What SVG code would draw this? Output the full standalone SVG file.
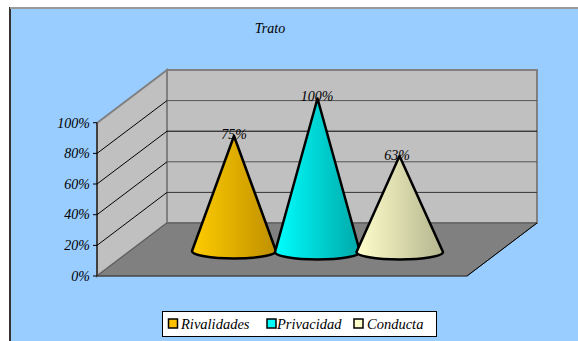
<svg xmlns="http://www.w3.org/2000/svg" width="578" height="341" viewBox="0 0 578 341">
<defs>
<style>
text{font-family:'Liberation Serif','Times New Roman',serif;font-style:italic;font-size:14px;fill:#000}
.ax{text-anchor:end}
.mid{text-anchor:middle}
.lg{font-size:14.5px}
.grid{stroke:#000;stroke-width:1;fill:none}
.wall{fill:#c0c0c0;stroke:#808080;stroke-width:2}
.cone{stroke:#000;stroke-width:2.5;stroke-linejoin:round}
.mk{stroke:#000;stroke-width:1.5}
</style>
<linearGradient id="gGold" x1="0" y1="0" x2="1" y2="0">
<stop offset="0" stop-color="#ffcc00"/><stop offset="1" stop-color="#bf9000"/>
</linearGradient>
<linearGradient id="gCyan" x1="0" y1="0" x2="1" y2="0">
<stop offset="0" stop-color="#00ffff"/><stop offset="1" stop-color="#00a8a8"/>
</linearGradient>
<linearGradient id="gBeige" x1="0" y1="0" x2="1" y2="0">
<stop offset="0" stop-color="#ffffcc"/><stop offset="1" stop-color="#b5b58f"/>
</linearGradient>
</defs>
<rect x="0" y="0" width="578" height="341" fill="#ffffff"/>
<rect x="10" y="8" width="580" height="345" fill="#99ccff" stroke="#333333" stroke-width="2"/>
<line x1="10" y1="8" x2="578" y2="8" stroke="#999999" stroke-width="2"/>
<text class="mid" x="270" y="33">Trato</text>
<g id="plot">
<polygon class="wall" points="97,123 167,70 167,223 97,276"/>
<polygon class="wall" points="167,70 537,70 537,223 167,223"/>
<polygon points="97,276 167,223 537,223 467,276" fill="#808080" stroke="#555555" stroke-width="1"/>
<g class="grid">
<line x1="167" y1="100.6" x2="537" y2="100.6" stroke="#555"/>
<line x1="167" y1="131.2" x2="537" y2="131.2"/>
<line x1="167" y1="161.8" x2="537" y2="161.8" stroke="#555"/>
<line x1="167" y1="192.4" x2="537" y2="192.4" stroke="#333"/>
<line x1="97" y1="245.4" x2="167" y2="192.4"/>
<line x1="97" y1="214.7" x2="167" y2="161.8"/>
<line x1="97" y1="184" x2="167" y2="131.2"/>
<line x1="97" y1="153.4" x2="167" y2="100.6"/>
<line x1="97" y1="122.7" x2="97" y2="276"/>
<line x1="93" y1="122.7" x2="97" y2="122.7"/>
<line x1="93" y1="153.4" x2="97" y2="153.4"/>
<line x1="93" y1="184" x2="97" y2="184"/>
<line x1="93" y1="214.7" x2="97" y2="214.7"/>
<line x1="93" y1="245.4" x2="97" y2="245.4"/>
<line x1="93" y1="276" x2="97" y2="276"/>
<line x1="97" y1="276" x2="467" y2="276" stroke="#404040"/>
<line x1="467" y1="276" x2="537" y2="223"/>
</g>
<text class="ax" x="90" y="127.5">100%</text>
<text class="ax" x="90" y="158">80%</text>
<text class="ax" x="90" y="188.5">60%</text>
<text class="ax" x="90" y="219">40%</text>
<text class="ax" x="90" y="250">20%</text>
<text class="ax" x="90" y="280.5">0%</text>
</g>
<g id="cone-rivalidades">
<path class="cone" fill="url(#gGold)" d="M192,251 L234,136 L276,251 A42,7.5 0 0 1 192,251 Z"/>
<text class="mid" x="234" y="138.5">75%</text>
</g>
<g id="cone-privacidad">
<path class="cone" fill="url(#gCyan)" d="M275,252 L317.5,98.5 L360,252 A42.5,7.5 0 0 1 275,252 Z"/>
<text class="mid" x="317" y="101">100%</text>
</g>
<g id="cone-conducta">
<path class="cone" fill="url(#gBeige)" d="M356.5,252 L399.5,156 L443,252 A43.25,7.5 0 0 1 356.5,252 Z"/>
<text class="mid" x="397" y="159.5">63%</text>
</g>
<g id="legend">
<rect x="162.5" y="311.5" width="274" height="25" fill="#ffffff" stroke="#000" stroke-width="1"/>
<rect class="mk" x="168.5" y="319" width="9" height="9" fill="#ffc000"/>
<text class="lg" x="181" y="328.5">Rivalidades</text>
<rect class="mk" x="267" y="319" width="9" height="9" fill="#00ffff"/>
<text class="lg" x="277" y="328.5">Privacidad</text>
<rect class="mk" x="354" y="319" width="9" height="9" fill="#ffffcc"/>
<text class="lg" x="367" y="328.5">Conducta</text>
</g>
</svg>
